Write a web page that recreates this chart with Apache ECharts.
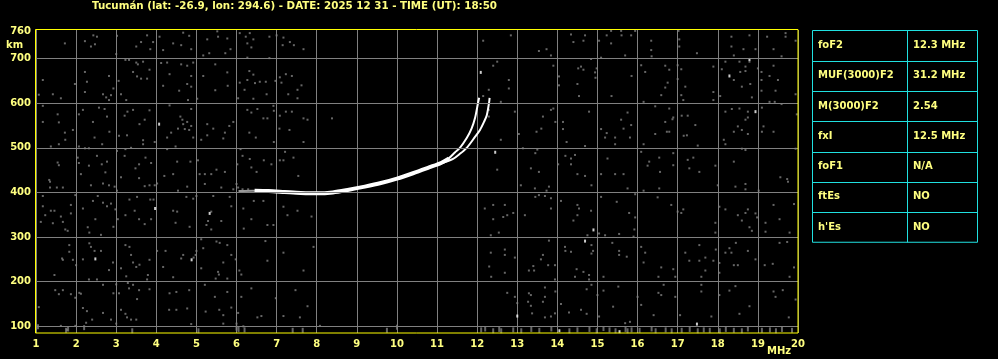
<!DOCTYPE html>
<html><head><meta charset="utf-8">
<script src="https://cdn.jsdelivr.net/npm/echarts@6/dist/echarts.min.js"></script>
<style>html,body{margin:0;padding:0;background:#000;}#c{width:998px;height:359px;}</style>
</head><body><div id="c"></div>
<script>
const titleText = "Tucumán (lat: -26.9, lon: 294.6) - DATE: 2025 12 31 - TIME (UT): 18:50";
const xTicks = [1,2,3,4,5,6,7,8,9,10,11,12,13,14,15,16,17,18,19,20];
const yTicks = [100,200,300,400,500,600,700,760];
const yGrid = [100,200,300,400,500,600,700];
const paramNames = ["foF2","MUF(3000)F2","M(3000)F2","fxI","foF1","ftEs","h'Es"];
const paramValues = ["12.3 MHz","31.2 MHz","2.54","12.5 MHz","N/A","NO","NO"];

// ionogram traces (MHz, km)
const traceStart = [[6.05,403],[6.4,404],[6.8,403],[7.3,400]];
const traceOLower = [[6.45,404],[6.8,403],[7.2,401],[7.6,399],[8.0,398],[8.4,400],[8.8,406],[9.2,413],[9.6,421],[10.0,431],[10.4,443],[10.8,456],[11.1,466],[11.3,476]];
const traceOUpper = [[11.1,467],[11.3,477],[11.45,490],[11.57,500],[11.74,522],[11.86,543],[11.95,568],[12.02,600],[12.05,612]];
const traceX = [[10.9,459],[11.2,468],[11.4,475],[11.55,485],[11.74,500],[11.95,525],[12.07,540],[12.17,558],[12.24,573],[12.3,603],[12.31,612]];

const noiseLowTop = [[1.72,734],[2.43,752],[2.52,749],[2.22,739],[2.47,732],[2.37,727],[3.0,710],[3.02,751],[3.5,727],[3.62,737],[3.77,752],[3.92,737],[3.85,721],[4.17,719],[4.08,749],[4.42,734],[4.62,730],[4.67,758],[4.82,751],[4.87,721],[5.17,707],[5.32,712],[5.27,743],[5.52,761],[5.54,749],[5.77,745],[5.85,721],[5.72,712],[6.08,757],[6.23,749],[6.33,757],[6.42,743],[6.27,734],[6.37,725],[6.27,702],[6.82,701],[6.82,749],[7.17,747],[7.15,730],[7.33,737],[7.43,730],[7.67,721],[7.0,752],
[1.17,652],[1.07,619],[1.42,620],[1.62,611],[1.97,643],[2.22,670],[2.27,648],[2.22,625],[2.67,620],[2.75,613],[2.87,618],[2.82,607],[2.82,661],[2.93,633],[3.06,650],[3.12,620],[3.25,607],[3.23,697],[3.32,697],[3.5,691],[3.54,687],[3.67,693],[3.42,670],[3.52,660],[3.62,655],[3.77,655],[3.83,675],[4.12,690],[4.27,691],[4.17,639],[4.33,665],[4.62,687],[4.77,684],[4.92,691],[4.87,661],[4.77,643],[4.87,637],[4.57,628],[4.79,607],[5.02,610],[5.17,661],[5.47,687],[5.77,669],[5.78,639],[5.47,629],[6.04,611],[6.08,646],[6.27,652],[6.2,630],[6.32,672],[6.42,664],[6.46,645],[6.58,648],[6.73,648],[6.42,610],[6.75,620],[6.97,650],[7.08,658],[7.12,646],[7.23,665],[7.38,661],[7.62,640],[7.52,630],[7.52,611],[7.29,620],
[1.17,594],[1.17,558],[1.54,575],[1.57,557],[1.72,534],[1.92,540],[1.73,518],[1.57,508],[1.37,503],[2.17,585],[2.07,575],[2.57,590],[2.71,587],[2.77,570],[2.42,558],[2.46,523],[2.83,536],[2.65,508],[3.21,572],[3.42,585],[3.28,581],[3.58,553],[3.71,563],[3.83,584],[3.07,527],[3.27,528],[3.67,517],[3.67,508],[3.96,513],[4.33,595],[4.6,570],[4.65,563],[4.77,558],[4.67,553],[4.54,543],[4.71,542],[4.82,540],[4.87,549],[4.92,523],[4.87,587],[4.37,534],[4.27,523],[5.27,553],[5.42,543],[5.82,549],[5.92,558],[5.71,534],[5.67,521],[5.27,528],[5.12,518],[6.27,585],[6.52,587],[6.37,579],[6.92,594],[6.93,583],[6.67,566],[6.77,566],[6.32,534],[6.48,523],[6.93,513],[7.08,572],[7.23,581],[7.38,581],[7.67,566],[7.77,563],[7.07,543],[7.32,540],[7.67,513],[8.38,566],
[2.07,503],[2.22,499],[2.32,499],[2.52,482],[2.64,463],[2.77,469],[2.73,445],[2.32,460],[2.07,466],[2.04,478],[2.12,441],[1.54,467],[1.57,461],[1.33,428],[3.02,493],[3.21,482],[3.23,497],[3.37,500],[3.73,478],[3.87,466],[3.57,463],[3.48,454],[3.12,434],[3.57,432],[4.27,497],[4.48,503],[4.52,469],[4.85,469],[5.04,472],[4.42,441],[4.2,437],[5.08,441],[5.21,441],[5.37,441],[5.5,451],[5.71,446],[6.15,482],[6.33,475],[6.1,497],[6.02,463],[6.37,456],[6.5,446],[6.68,472],[6.87,463],[7.08,472],[7.17,472],[7.21,491],[7.42,478],[7.54,437]];

const noiseLowBottom = [[1.35,424],[1.52,411],[1.67,411],[1.35,411],[2.37,416],[2.67,420],[2.82,416],[2.96,413],[3.02,404],[3.71,414],[3.83,416],[3.96,416],[4.02,420],[4.54,404],[4.77,413],[5.21,419],[5.62,411],[5.92,407],[6.0,419],[6.04,411],[6.15,407],[6.29,407],
[1.17,392],[1.17,369],[1.23,349],[1.12,334],[1.37,359],[1.46,359],[1.62,346],[1.73,317],[1.79,314],[1.87,372],[1.87,353],[1.67,334],[1.42,331],[1.98,394],[2.42,381],[2.54,392],[2.67,377],[2.77,369],[2.87,375],[2.98,362],[3.04,340],[2.29,322],[2.33,310],[2.62,305],[2.17,364],[2.48,340],[2.93,323],[3.23,349],[3.33,384],[3.46,359],[3.57,340],[3.71,329],[3.87,340],[3.85,384],[3.93,384],[3.52,390],[4.42,359],[4.52,357],[4.48,332],[4.83,323],[4.75,390],[4.92,386],[5.0,392],[5.42,392],[5.37,357],[5.29,336],[5.25,327],[5.37,317],[5.62,336],[5.87,369],[5.83,390],[6.17,364],[6.18,319],[6.37,340],[6.43,381],[6.77,327],[6.92,327],[6.67,381],[7.17,368],[7.27,349],[7.52,359],[7.87,346],
[1.83,282],[1.83,267],[1.67,249],[1.65,252],[1.92,249],[1.46,215],[2.0,237],[2.33,286],[2.46,269],[2.37,278],[2.62,269],[2.17,250],[2.32,205],[2.52,205],[2.92,243],[2.82,226],[3.23,282],[3.33,278],[3.12,230],[3.25,212],[3.37,260],[3.42,243],[3.5,233],[3.58,238],[3.83,249],[3.79,215],[3.77,205],[4.02,269],[4.17,233],[4.23,269],[4.42,210],[4.62,252],[4.67,260],[4.93,254],[4.98,260],[5.0,269],[5.12,295],[5.17,275],[5.12,230],[5.5,290],[5.58,287],[5.77,282],[5.87,260],[5.98,250],[5.67,243],[5.54,222],[5.56,216],[5.48,207],[5.77,207],[6.07,225],[6.12,216],[6.72,291],[6.77,247],[7.17,265],[7.67,225],[7.92,278],
[1.48,181],[1.67,181],[1.57,172],[1.87,172],[1.98,164],[2.08,175],[2.12,173],[2.67,193],[3.0,194],[2.93,174],[2.17,141],[2.27,134],[2.4,115],[2.25,108],[2.67,130],[2.87,115],[3.0,106],[1.07,143],[1.62,101],[1.77,92],[1.98,101],[3.29,197],[3.42,193],[3.32,185],[3.07,174],[3.57,181],[3.83,183],[3.52,161],[3.12,137],[3.23,128],[3.27,120],[3.37,115],[3.5,115],[4.33,174],[4.5,177],[4.82,181],[4.32,137],[4.5,137],[4.77,140],[4.87,105],[5.21,193],[5.46,166],[5.23,133],[5.57,137],[5.77,177],[5.87,142],[5.67,125],[5.67,106],[6.04,130],[6.12,166],[6.37,185],[6.0,106],[6.17,100],[6.52,120],[6.62,123],[6.98,163],[7.17,123],[7.47,181],[7.58,120],[7.77,145],[8.08,101]];

const noiseHighTop = [[12.15,740],[12.84,752],[13.54,717],[13.73,721],[13.84,707],[14.34,754],[14.4,737],[14.69,752],[14.65,740],[15.04,740],[15.23,752],[15.34,734],[15.34,762],[15.59,762],[15.6,752],[15.84,752],[15.94,762],[15.69,707],[15.09,702],[16.34,740],[16.34,719],[16.35,705],[17.02,762],[17.04,743],[17.04,727],[17.48,712],[18.34,749],[18.34,727],[18.4,707],[18.79,752],[18.64,721],[18.94,721],[19.23,749],[19.39,721],[19.59,705],[19.69,757],[19.69,749],[19.94,740],
[12.4,684],[12.5,693],[12.79,652],[12.79,633],[12.29,630],[12.15,616],[12.59,603],[13.9,684],[14.04,660],[14.04,640],[14.52,678],[14.59,682],[14.65,675],[14.5,643],[14.54,616],[14.84,699],[14.94,669],[14.95,657],[14.98,678],[15.35,616],[15.85,661],[16.09,685],[16.19,670],[16.15,603],[16.59,618],[16.69,635],[16.75,646],[16.69,684],[16.79,675],[17.0,685],[17.0,654],[17.09,676],[17.19,637],[17.09,618],[17.14,607],[17.89,682],[17.89,625],[17.89,607],[18.06,616],[18.1,676],[18.19,693],[18.4,652],[18.54,693],[18.56,670],[18.6,637],[18.69,682],[18.69,672],[18.79,693],[18.81,643],[18.85,613],[19.0,678],[19.09,670],[19.09,628],[19.09,652],[19.29,661],[19.39,684],[19.44,628],[19.5,652],[19.29,603],[19.42,603],[19.59,598],[19.94,620],
[12.29,585],[12.29,570],[12.59,518],[12.94,581],[13.04,531],[13.48,536],[13.6,543],[13.64,570],[13.84,585],[13.9,588],[13.95,558],[14.14,558],[14.14,542],[14.23,513],[14.69,504],[14.79,581],[15.09,542],[15.19,523],[15.23,533],[15.44,523],[15.44,508],[15.59,563],[15.65,543],[15.75,579],[15.84,551],[15.81,523],[16.15,508],[16.44,593],[16.44,531],[16.69,558],[16.73,536],[16.79,536],[16.87,564],[16.89,568],[16.79,588],[17.1,572],[17.25,572],[17.15,527],[17.23,528],[17.44,551],[17.5,505],[18.19,581],[18.35,587],[18.54,588],[18.69,563],[18.75,568],[18.75,581],[18.5,548],[18.6,540],[18.75,531],[18.4,536],[18.15,518],[18.19,508],[19.1,590],[19.14,548],[19.1,536],[19.39,536],[19.97,575],
[12.5,451],[13.14,499],[13.5,496],[13.45,488],[13.34,454],[13.54,446],[14.2,482],[14.34,476],[14.44,484],[14.34,463],[14.02,463],[14.5,441],[14.69,437],[15.25,476],[15.09,441],[15.44,441],[15.65,441],[16.09,491],[16.29,469],[16.25,460],[16.54,478],[16.89,488],[16.89,461],[16.56,446],[17.25,473],[17.39,478],[17.29,454],[17.54,446],[17.94,460],[18.6,498],[18.69,495],[18.4,469],[19.56,434],[19.73,430],[19.94,498]];

const noiseHighBottom = [[13.09,416],[13.44,409],[13.73,404],[13.79,413],[14.85,416],[15.75,409],[16.15,404],[16.54,409],[18.0,416],[18.44,413],[18.69,419],[18.69,407],[19.02,404],[19.75,424],
[12.19,364],[12.4,372],[12.69,372],[12.4,340],[12.65,345],[12.75,349],[12.9,354],[13.19,349],[12.54,310],[12.34,304],[13.45,390],[13.54,394],[13.69,392],[13.84,387],[13.84,364],[14.09,381],[14.5,372],[14.54,364],[14.5,349],[14.4,337],[14.84,359],[14.75,304],[15.09,390],[15.04,308],[15.19,304],[15.48,379],[15.54,307],[15.79,354],[15.94,396],[15.94,344],[15.92,317],[15.9,301],[16.5,389],[16.84,372],[17.0,357],[17.09,354],[17.14,362],[17.94,332],[17.94,310],[18.04,368],[18.19,362],[18.5,349],[18.6,337],[18.69,354],[18.75,362],[18.94,353],[18.98,344],[18.79,322],[18.85,314],[19.19,332],[19.19,312],[19.39,372],[19.54,340],[19.79,310],[19.9,374],
[12.34,265],[12.69,272],[12.69,260],[12.94,254],[12.3,234],[12.35,211],[12.69,220],[13.29,225],[13.4,235],[13.42,225],[13.59,250],[13.64,260],[13.79,292],[13.77,237],[13.94,237],[13.94,205],[14.19,278],[14.2,269],[14.34,267],[14.48,228],[14.44,211],[14.65,222],[14.79,215],[14.85,282],[14.89,269],[14.85,263],[14.79,205],[15.15,211],[15.37,287],[15.54,269],[15.54,260],[15.73,256],[16.09,278],[16.19,265],[16.15,243],[16.59,232],[16.52,211],[16.89,228],[16.94,211],[17.19,265],[17.29,247],[17.54,282],[17.54,247],[17.69,254],[17.69,225],[17.59,211],[17.89,247],[17.95,272],[18.04,242],[18.04,220],[18.19,265],[18.29,275],[18.34,265],[18.45,287],[18.4,237],[18.5,237],[18.75,269],[18.94,250],[19.17,237],[19.37,240],[19.54,287],[19.73,289],[19.79,211],[19.9,232],
[12.75,175],[12.94,166],[13.0,152],[13.29,174],[13.34,170],[13.27,155],[13.34,146],[13.37,129],[13.69,187],[13.69,166],[13.64,155],[13.69,120],[13.84,122],[13.95,178],[13.94,129],[14.09,150],[14.29,131],[14.59,137],[14.73,183],[14.73,128],[14.85,193],[15.0,170],[15.04,122],[15.15,180],[15.39,144],[15.52,189],[15.69,107],[15.81,110],[16.0,166],[16.09,148],[16.4,125],[16.52,175],[16.59,170],[16.65,193],[16.94,166],[17.06,125],[17.59,193],[17.59,178],[17.84,122],[18.04,170],[18.29,180],[18.44,190],[18.54,128],[18.79,145],[19.39,178],[19.44,166],[19.62,181],[19.77,120],[19.94,160]];

const noiseFloor = [[1.05,99],[1.75,91],[1.8,94],[2.2,97],[3.4,90],[5.05,90],[6.0,96],[6.05,93],[6.2,92],[7.4,91],[7.65,91],[9.75,91],[10.0,98],[12.1,92],[12.2,94],[12.4,90],[12.55,93],[12.6,90],[12.9,92],[13.1,90],[13.35,93],[13.55,91],[13.85,94],[14.3,90],[14.5,92],[14.8,93],[14.98,90],[15.15,95],[15.3,92],[15.45,90],[15.7,93],[15.75,90],[15.85,92],[16.05,91],[16.35,94],[16.45,90],[16.7,92],[16.85,90],[17.1,91],[17.3,93],[17.5,90],[17.65,92],[17.8,91],[18.05,90],[18.2,93],[18.4,91],[18.6,90],[18.75,94],[19.1,91],[19.3,92],[19.45,90],[19.6,93],[19.85,91]];

const whiteSpots = [[4.07,553],[3.97,364],[2.48,251],[5.33,353],[4.88,249],[14.9,316],[14.69,291],[13.0,123],[17.48,105],[12.09,669],[18.29,661],[18.79,698],[18.94,581],[15.55,88],[14.05,90],[12.45,490]];

const chart = echarts.init(document.getElementById('c'), null, {renderer:'canvas'});
const FONT = 'DejaVu Sans';
const TXT = '#ffff80';
const CYAN = '#20e0e0';
const graphics = [];
const tX = 812.5, tY = 30.5, tW = 165, rowH = 30.25, colX = 907.5;
graphics.push({type:'rect', shape:{x:tX, y:tY, width:tW, height:rowH*paramNames.length}, style:{fill:'#000', stroke:CYAN, lineWidth:1}, z:10});
graphics.push({type:'line', shape:{x1:colX, y1:tY, x2:colX, y2:tY+rowH*paramNames.length}, style:{stroke:CYAN, lineWidth:1}, z:11});
paramNames.forEach((n,i)=>{
  const yy = Math.round(tY + rowH*i) + 0.5;
  if (i>0) graphics.push({type:'line', shape:{x1:tX, y1:yy, x2:tX+tW, y2:yy}, style:{stroke:CYAN, lineWidth:1}, z:11});
  const cy = tY + rowH*(i+0.5);
  graphics.push({type:'text', x:818, y:cy, style:{text:n, fill:TXT, font:'bold 10px "'+FONT+'"', verticalAlign:'middle', align:'left'}, z:12});
  graphics.push({type:'text', x:913, y:cy, style:{text:paramValues[i], fill:TXT, font:'bold 10px "'+FONT+'"', verticalAlign:'middle', align:'left'}, z:12});
});
graphics.push({type:'text', x:6, y:45, style:{text:'km', fill:TXT, font:'bold 10px "'+FONT+'"', verticalAlign:'middle', align:'left'}, z:12});
graphics.push({type:'text', x:767, y:351, style:{text:'MHz', fill:TXT, font:'bold 10px "'+FONT+'"', verticalAlign:'middle', align:'left'}, z:12});
// plot frame (crisp yellow border)
graphics.push({type:'rect', shape:{x:35.5, y:29.5, width:762.5, height:303.5}, style:{fill:'none', stroke:'#ffff00', lineWidth:1}, z:20});

function scatter(name, data, color, size){
  return {name, type:'scatter', data, symbol:'rect', symbolSize:size, itemStyle:{color}, silent:true, z:3};
}
function trace(name, data, color, width){
  return {name, type:'line', data, showSymbol:false, smooth:0.3, lineStyle:{color, width}, silent:true, z:4};
}

chart.setOption({
  backgroundColor:'#000',
  animation:false,
  title:{text:titleText, left:92, top:1, padding:0, textStyle:{color:TXT, fontFamily:FONT, fontWeight:'bold', fontSize:10.3}},
  grid:{left:36, top:30, width:762, height:303, show:false},
  xAxis:{type:'value', min:xTicks[0], max:xTicks[xTicks.length-1], interval:1,
    axisLine:{show:false}, axisTick:{show:false},
    axisLabel:{color:TXT, fontFamily:FONT, fontWeight:'bold', fontSize:10, margin:6, showMinLabel:true, showMaxLabel:true,
      customValues:xTicks},
    splitLine:{show:true, lineStyle:{color:'#808080', width:1}}},
  yAxis:{type:'value', min:85, max:764,
    axisLine:{show:false}, axisTick:{show:false},
    axisLabel:{color:TXT, fontFamily:FONT, fontWeight:'bold', fontSize:10, margin:5, customValues:yTicks},
    splitLine:{show:false}},
  graphic:graphics,
  series:[
    {type:'line', data:[], silent:true, z:1,
      markLine:{silent:true, symbol:'none', label:{show:false}, lineStyle:{color:'#808080', width:1, type:'solid'},
        data:yGrid.map(v=>({yAxis:v}))}},
    scatter('noiseLowTop', noiseLowTop, '#808080', [2,2]),
    scatter('noiseLowBottom', noiseLowBottom, '#808080', [2,2]),
    scatter('noiseHighTop', noiseHighTop, '#808080', [2,2]),
    scatter('noiseHighBottom', noiseHighBottom, '#808080', [2,2]),
    scatter('noiseFloor', noiseFloor, '#808080', [2,5]),
    trace('traceStart', traceStart, '#9a9a9a', 2),
    trace('traceOLower', traceOLower, '#ffffff', 4),
    trace('traceOUpper', traceOUpper, '#ffffff', 2),
    trace('traceX', traceX, '#ffffff', 2),
    scatter('white', whiteSpots, '#ffffff', [2,3])
  ]
});
</script></body></html>
